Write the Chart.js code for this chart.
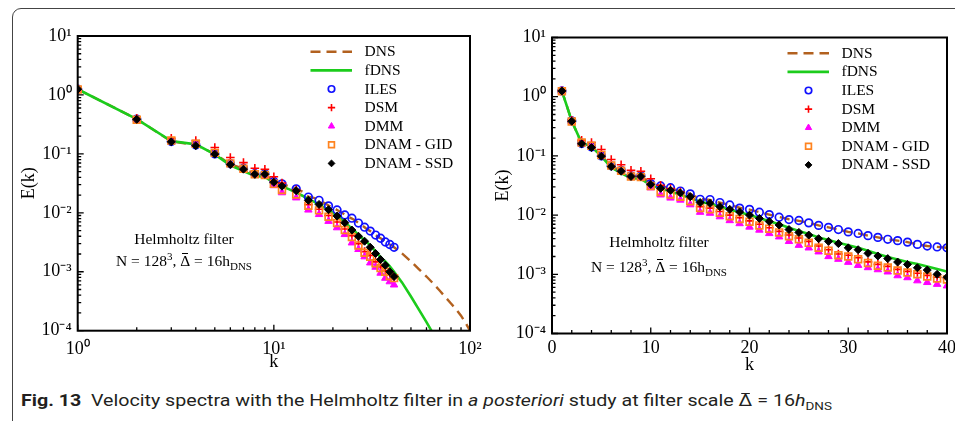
<!DOCTYPE html>
<html>
<head>
<meta charset="utf-8">
<script src="https://cdn.jsdelivr.net/npm/chart.js@4.4.1/dist/chart.umd.min.js"></script>
<style>
  body { margin: 0; width: 955px; height: 421px; overflow: hidden; background: #fff; position: relative; }
  #frame { position: absolute; left: 12px; top: 8px; width: 960px; height: 440px; border: 1px solid #444; border-radius: 9px; }
  .panel { position: absolute; top: 0; height: 380px; }
  .note { position: absolute; width: 200px; text-align: center; font-family: 'Liberation Serif', serif; font-size: 15.5px; color: #000; white-space: nowrap; }
  .note sup, .note sub { font-size: 11px; line-height: 0; }
  .ob { position: relative; display: inline-block; line-height: 1; }
  .ob::before { content: ''; position: absolute; left: 22%; right: 22%; top: -0.5px; border-top: 1.4px solid currentColor; }
  #caption { position: absolute; left: 21px; top: 391px; font-family: 'Liberation Sans Narrow', 'Roboto', sans-serif; font-size: 16px; color: #231f20; white-space: nowrap; transform-origin: 0 0; }
  #caption sub { font-size: 11px; line-height: 0; }
</style>
</head>
<body>
<div id="frame"></div>
<div class="panel" style="left:0; width:490px"><canvas id="leftChart" width="490" height="380"></canvas></div>
<div class="panel" style="left:475px; width:480px"><canvas id="rightChart" width="480" height="380"></canvas></div>
<div class="note" style="left:84px; top:228px; line-height:22px">Helmholtz filter<br>N = 128<sup>3</sup>, <span class="ob">Δ</span> = 16h<sub>DNS</sub></div>
<div class="note" style="left:559px; top:229px; line-height:25px">Helmholtz filter<br>N = 128<sup>3</sup>, <span class="ob">Δ</span> = 16h<sub>DNS</sub></div>
<div id="caption"><b>Fig. 13</b>&nbsp; Velocity spectra with the Helmholtz filter in <i>a posteriori</i> study at filter scale <span class="ob">Δ</span> = 16<i>h</i><sub>DNS</sub></div>

<script>
// wavenumbers of the LES samples
const kLes = [1, 2, 3, 4, 5, 6, 7, 8, 9, 10, 11, 12, 13, 14, 15, 16, 17, 18, 19, 20,
              21, 22, 23, 24, 25, 26, 27, 28, 29, 30, 31, 32, 33, 34, 35, 36, 37, 38, 39, 40, 41];
// log-log panel only shows every other sample above k = 11
const kLeftMarks = [1, 2, 3, 4, 5, 6, 7, 8, 9, 10, 11, 13, 15, 17, 19, 21, 23, 25, 27, 29,
                    31, 33, 35, 37, 39, 41];

const eIles = [1.25, 0.39, 0.162, 0.142, 0.100, 0.068, 0.057, 0.046, 0.046, 0.034, 0.031,
               0.029, 0.0255, 0.0228, 0.0185, 0.0183, 0.0163, 0.0148, 0.0131, 0.0125,
               0.0112, 0.0102, 0.0092, 0.0084, 0.0081, 0.0074, 0.0067, 0.0062, 0.0057, 0.0052,
               0.0049, 0.0045, 0.0042, 0.0039, 0.0037, 0.0035, 0.0032, 0.0030, 0.0029, 0.0028, 0.0026];
const eDsm = [1.26, 0.40, 0.184, 0.168, 0.128, 0.087, 0.071, 0.057, 0.055, 0.041, 0.032,
              0.028, 0.0245, 0.019, 0.0138, 0.0131, 0.0115, 0.0100, 0.0090, 0.0080,
              0.0070, 0.0061, 0.0053, 0.0046, 0.0041, 0.0036, 0.0030, 0.0026, 0.0022, 0.0021,
              0.0019, 0.00162, 0.00147, 0.00136, 0.00121, 0.00112, 0.00104, 0.00096, 0.00089, 0.00085, 0.0008];
const eDmm = [1.24, 0.38, 0.165, 0.145, 0.102, 0.068, 0.055, 0.044, 0.043, 0.029, 0.022,
              0.0195, 0.018, 0.015, 0.0112, 0.0108, 0.0094, 0.0081, 0.0072, 0.0063,
              0.0056, 0.0049, 0.0043, 0.0036, 0.0031, 0.0028, 0.0024, 0.0020, 0.0018, 0.0016,
              0.00142, 0.0013, 0.0012, 0.0011, 0.00095, 0.00088, 0.00078, 0.00073, 0.00068, 0.00064, 0.0006];
const eGid = [1.24, 0.38, 0.168, 0.148, 0.104, 0.069, 0.056, 0.045, 0.044, 0.031, 0.0245,
              0.0222, 0.0205, 0.0172, 0.0132, 0.0126, 0.0110, 0.0096, 0.0086, 0.0077,
              0.0067, 0.0059, 0.0051, 0.0044, 0.0039, 0.0034, 0.0028, 0.0025, 0.0021, 0.0020,
              0.0018, 0.00155, 0.0014, 0.0013, 0.00116, 0.00107, 0.0010, 0.00092, 0.00085, 0.00082, 0.00078];
const eSsd = [1.25, 0.385, 0.160, 0.138, 0.099, 0.066, 0.055, 0.045, 0.045, 0.033, 0.0283,
              0.0262, 0.0237, 0.0205, 0.0163, 0.0158, 0.0139, 0.0125, 0.0113, 0.0100,
              0.0088, 0.0078, 0.0068, 0.0057, 0.0051, 0.0046, 0.0040, 0.0036, 0.0033, 0.0028,
              0.0026, 0.00226, 0.00204, 0.00184, 0.00161, 0.00147, 0.00129, 0.00118, 0.00100, 0.00089, 0.00083];

// reference curves
const kDns = [1, 2, 3, 4, 5, 6, 7, 8, 9, 10, 11, 12, 13, 14, 15, 16, 17, 18, 19, 20,
              21, 22, 23, 24, 25, 26, 27, 28, 29, 30, 31, 32, 33, 34, 35, 36, 37, 38, 39, 40, 41,
              45, 50, 55, 60, 65, 70, 75, 80, 85, 90, 95, 100];
const eDns = [1.25, 0.39, 0.163, 0.142, 0.100, 0.067, 0.056, 0.046, 0.045, 0.034, 0.031,
              0.028, 0.0255, 0.0228, 0.0188, 0.0180, 0.0163, 0.0148, 0.0133, 0.0124,
              0.0112, 0.0102, 0.0093, 0.0085, 0.0080, 0.0074, 0.0067, 0.0062, 0.0057, 0.0052,
              0.0049, 0.0045, 0.0042, 0.0039, 0.0037, 0.0035, 0.0032, 0.0030, 0.0029, 0.0028, 0.0026,
              0.00205, 0.0015, 0.0011, 0.00083, 0.00063, 0.00048, 0.00037, 0.00029, 0.00023, 0.00018, 0.000135, 0.0001];
const kFdns = [1, 2, 3, 4, 5, 6, 7, 8, 9, 10, 11, 12, 13, 14, 15, 16, 17, 18, 19, 20,
               21, 22, 23, 24, 25, 26, 27, 28, 29, 30, 31, 32, 33, 34, 35, 36, 37, 38, 39, 40, 41,
               45, 50, 55, 60, 65, 70];
const eFdns = [1.25, 0.39, 0.165, 0.145, 0.098, 0.064, 0.051, 0.042, 0.041, 0.032, 0.028,
               0.025, 0.022, 0.0195, 0.0168, 0.0155, 0.0138, 0.0124, 0.0112, 0.0100,
               0.0089, 0.0079, 0.0070, 0.0061, 0.0054, 0.0048, 0.0042, 0.0038, 0.0034, 0.0031,
               0.0028, 0.0025, 0.0022, 0.00196, 0.00178, 0.00162, 0.00149, 0.00136, 0.00123, 0.00111, 0.0010,
               0.00066, 0.00038, 0.000225, 0.00014, 0.000088, 0.000055];

const seriesNames = ['DNS', 'fDNS', 'ILES', 'DSM', 'DMM', 'DNAM - GID', 'DNAM - SSD'];

const yDecades = [1e-4, 1e-3, 1e-2, 1e-1, 1, 10];
const xDecadesLeft = [1, 10, 100];

const FONT = "'Liberation Serif', 'Times New Roman', serif";
Chart.defaults.font.family = FONT;
Chart.defaults.color = '#000';

const SUP = { '0': '⁰', '1': '¹', '2': '²', '3': '³', '4': '⁴', '-': '⁻' };
function powLabel(v) {
    const e = Math.round(Math.log10(v));
    return '10' + String(e).split('').map(c => SUP[c]).join('');
}

function pts(ks, vals, keep) {
    const out = ks.map((k, i) => ({ x: k, y: vals[i] }));
    return keep ? out.filter(p => keep.includes(p.x)) : out;
}

function buildDatasets(keep) {
    return [
        { label: seriesNames[0], data: pts(kDns, eDns), showLine: true, borderColor: '#b2611f',
          borderWidth: 2.4, borderDash: [10, 6], pointRadius: 0, order: 7 },
        { label: seriesNames[1], data: pts(kFdns, eFdns), showLine: true, borderColor: '#1ccc1c',
          borderWidth: 2.6, pointRadius: 0, order: 6 },
        { label: seriesNames[2], data: pts(kLes, eIles, keep), showLine: false, pointStyle: 'circle',
          pointRadius: 3.8, borderColor: '#1010ff', backgroundColor: 'rgba(0,0,0,0)', pointBorderWidth: 1.7, order: 5 },
        { label: seriesNames[3], data: pts(kLes, eDsm, keep), showLine: false, pointStyle: 'cross',
          pointRadius: 4.3, borderColor: '#ff0000', backgroundColor: '#ff0000', pointBorderWidth: 1.6, order: 4 },
        { label: seriesNames[4], data: pts(kLes, eDmm, keep), showLine: false, pointStyle: 'triangle',
          pointRadius: 4.3, borderColor: '#ff00ff', backgroundColor: '#ff00ff', pointBorderWidth: 1, order: 3 },
        { label: seriesNames[5], data: pts(kLes, eGid, keep), showLine: false, pointStyle: 'rect',
          pointRadius: 4.8, borderColor: '#ff8420', backgroundColor: 'rgba(0,0,0,0)', pointBorderWidth: 1.7, order: 2 },
        { label: seriesNames[6], data: pts(kLes, eSsd, keep), showLine: false, pointStyle: 'rectRot',
          pointRadius: 4, borderColor: '#000', backgroundColor: '#000', pointBorderWidth: 1, order: 1 }
    ];
}

// frame, inward ticks and the legend box
const framePlugin = {
    id: 'frameTicks',
    afterDatasetsDraw(chart, args, opts) {
        const { ctx, chartArea: a } = chart;
        const xs = chart.scales.x, ys = chart.scales.y;
        ctx.save();
        ctx.strokeStyle = '#000';
        ctx.lineWidth = 1.3;
        ctx.beginPath();
        opts.xTicks.forEach(([v, len]) => {
            const px = xs.getPixelForValue(v);
            ctx.moveTo(px, a.bottom); ctx.lineTo(px, a.bottom - len);
        });
        opts.yTicks.forEach(([v, len]) => {
            const py = ys.getPixelForValue(v);
            ctx.moveTo(a.left, py); ctx.lineTo(a.left + len, py);
        });
        ctx.stroke();
        ctx.lineWidth = 2;
        ctx.strokeRect(a.left, a.top, a.right - a.left, a.bottom - a.top);

        // legend
        chart.data.datasets.forEach((ds, i) => {
            const y = a.top + 15.8 + i * 18.6;
            const xr = a.right;
            ctx.save();
            if (ds.showLine) {
                ctx.strokeStyle = ds.borderColor;
                ctx.lineWidth = ds.borderWidth;
                ctx.setLineDash(ds.borderDash || []);
                ctx.beginPath();
                ctx.moveTo(xr - 159.5, y); ctx.lineTo(xr - 118, y);
                ctx.stroke();
            } else {
                ctx.strokeStyle = ds.borderColor;
                ctx.fillStyle = ds.backgroundColor;
                ctx.lineWidth = ds.pointBorderWidth;
                Chart.helpers.drawPoint(ctx, { pointStyle: ds.pointStyle, radius: ds.pointRadius * 0.85,
                    borderWidth: ds.pointBorderWidth, rotation: 0 }, xr - 138.5, y);
            }
            ctx.restore();
            ctx.fillStyle = '#000';
            ctx.font = '15.5px ' + FONT;
            ctx.textBaseline = 'middle';
            ctx.fillText(ds.label, xr - 105.5, y + 0.5);
        });
        ctx.restore();
    }
};

function logTicks(lo, hi) {
    const t = [];
    for (let d = lo; d <= hi; d++) {
        const base = Math.pow(10, d);
        t.push([base, 6]);
        if (d < hi) for (let m = 2; m <= 9; m++) t.push([m * base, 3.5]);
    }
    return t;
}
function linTicks(lo, hi, major, minor) {
    const t = [];
    for (let v = lo; v <= hi; v += minor) t.push([v, v % major === 0 ? 6 : 3.5]);
    return t;
}

function yScale(width, titlePad) {
    return {
        type: 'logarithmic', min: 1e-4, max: 10,
        grid: { display: false, drawTicks: false }, border: { display: false },
        afterBuildTicks: s => { s.ticks = yDecades.map(v => ({ value: v })); },
        afterFit: s => { s.width = width; s.paddingTop = 0; s.paddingBottom = 0; },
        ticks: { callback: powLabel, padding: 6, font: { size: 18 }, autoSkip: false },
        title: { display: true, text: 'E(k)', font: { size: 18 }, padding: { top: titlePad, bottom: 0 } }
    };
}

function makeChart(id, xOpts, keep, layoutPad, ticksCfg) {
    return new Chart(document.getElementById(id), {
        type: 'line',
        data: { datasets: buildDatasets(keep) },
        options: {
            responsive: false, animation: false, devicePixelRatio: 1,
            layout: { padding: layoutPad },
            plugins: { legend: { display: false }, tooltip: { enabled: false }, frameTicks: ticksCfg },
            scales: { x: xOpts.x, y: xOpts.y }
        },
        plugins: [framePlugin]
    });
}

makeChart('leftChart', {
    x: {
        type: 'logarithmic', min: 1, max: 100,
        grid: { display: false, drawTicks: false }, border: { display: false },
        afterBuildTicks: s => { s.ticks = xDecadesLeft.map(v => ({ value: v })); },
        afterFit: s => { s.height = 49.3; s.paddingLeft = 0; s.paddingRight = 0; },
        ticks: { callback: powLabel, padding: 8, font: { size: 18 }, maxRotation: 0, autoSkip: false },
        title: { display: true, text: 'k', font: { size: 18 }, padding: { top: 0, bottom: 7 } }
    },
    y: yScale(77.7, 18)
}, kLeftMarks, { left: 0, top: 36, right: 20, bottom: 0 },
   { xTicks: logTicks(0, 2), yTicks: logTicks(-4, 1) });

makeChart('rightChart', {
    x: {
        type: 'linear', min: 0, max: 40,
        grid: { display: false, drawTicks: false }, border: { display: false },
        afterFit: s => { s.height = 46.5; s.paddingLeft = 0; s.paddingRight = 0; },
        ticks: { stepSize: 10, padding: 4, font: { size: 18 }, maxRotation: 0, autoSkip: false },
        title: { display: true, text: 'k', font: { size: 18 }, padding: { top: 0, bottom: 4 } }
    },
    y: yScale(77, 17)
}, null, { left: 0, top: 37.5, right: 8, bottom: 0 },
   { xTicks: linTicks(0, 40, 10, 2), yTicks: logTicks(-4, 1) });

// squeeze the caption to the condensed width of the original
const cap = document.getElementById('caption');
const w = cap.getBoundingClientRect().width;
cap.style.transform = 'scaleX(' + (811 / w) + ')';
</script>
</body>
</html>
